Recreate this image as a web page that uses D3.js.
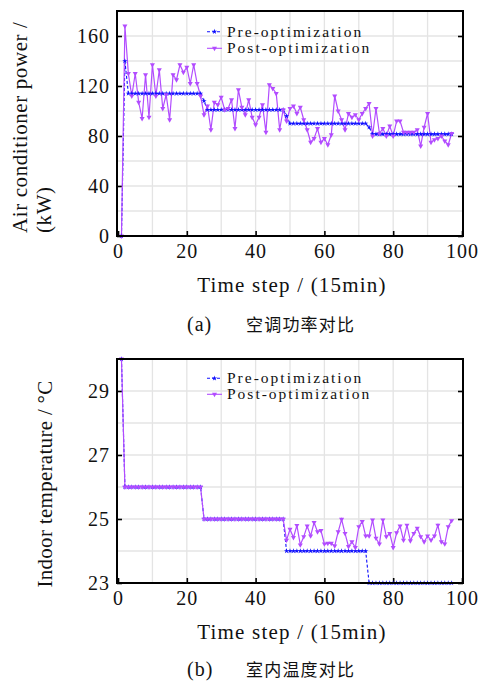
<!DOCTYPE html>
<html lang="en">
<head>
<meta charset="UTF-8">
<script src="https://d3js.org/d3.v7.min.js"></script>
<title>Air conditioner power and indoor temperature</title>
<style>
  body { margin: 0; background: #fff; }
  svg { display: block; font-family: "Liberation Serif", "Times New Roman", serif; }
  .grid line { stroke: #e4e4e4; stroke-width: 1.3px; }
  .frame { fill: none; stroke: #000; stroke-width: 2px; }
  .axis text { font-size: 20px; letter-spacing: 1px; fill: #111; font-family: "Liberation Serif", serif; }
  .axis line { stroke: #000; stroke-width: 1.6px; }
  .axis-title { font-size: 21px; fill: #111; }
  .legend-text { font-size: 15.5px; letter-spacing: 2px; fill: #111; }
  .cap-latin { font-size: 20px; letter-spacing: 1px; fill: #111; }
  .cap-cjk { font-size: 17px; letter-spacing: 1.2px; fill: #111; font-family: "Noto Sans CJK SC", sans-serif; }
</style>
</head>
<body>
<svg id="chart" width="481" height="684"></svg>
<script>
// time steps 1..97
const steps = d3.range(1, 98);

const powerPre = [
  0, 140, 114, 114, 114, 114, 114, 114, 114, 114,
  114, 114, 114, 114, 114, 114, 114, 114, 114, 114,
  114, 114, 114, 114, 108, 101, 101, 101, 101, 101,
  101, 101, 101, 101, 101, 101, 101, 101, 101, 101,
  101, 101, 101, 101, 101, 101, 101, 101, 96, 90,
  90, 90, 90, 90, 90, 90, 90, 90, 90, 90,
  90, 90, 90, 90, 90, 90, 90, 90, 90, 90,
  90, 90, 87, 81.5, 81.5, 81.5, 81.5, 81.5, 81.5, 81.5,
  81.5, 81.5, 81.5, 81.5, 81.5, 81.5, 81.5, 81.5, 81.5, 81.5,
  81.5, 81.5, 81.5, 81.5, 81.5, 81.5, 81.5
];
const powerPost = [
  0, 168, 130, 112, 130, 107, 94, 129, 95, 137,
  112, 133, 102, 113, 93, 129, 125, 137, 131, 135,
  122, 137, 122, 112, 97, 104, 85, 107, 105, 111,
  101, 102, 109, 86, 117, 103, 97, 109, 95, 89,
  95, 105, 83, 121, 118, 114, 85, 101, 92, 102,
  104, 98, 103, 93, 85, 75, 78, 86, 75, 78,
  73, 81, 112, 100, 93, 85, 98, 95, 97, 93,
  98, 102, 106, 80, 102, 82, 86, 80, 88, 80,
  92, 92, 83, 83, 83, 83, 85, 72, 87, 98,
  75, 77, 78, 80, 76, 73, 82
];

const tempPre = [
  30, 26, 26, 26, 26, 26, 26, 26, 26, 26,
  26, 26, 26, 26, 26, 26, 26, 26, 26, 26,
  26, 26, 26, 26, 25, 25, 25, 25, 25, 25,
  25, 25, 25, 25, 25, 25, 25, 25, 25, 25,
  25, 25, 25, 25, 25, 25, 25, 25, 24, 24,
  24, 24, 24, 24, 24, 24, 24, 24, 24, 24,
  24, 24, 24, 24, 24, 24, 24, 24, 24, 24,
  24, 24, 23, 23, 23, 23, 23, 23, 23, 23,
  23, 23, 23, 23, 23, 23, 23, 23, 23, 23,
  23, 23, 23, 23, 23, 23, 23
];
const tempPost = [
  30, 26, 26, 26, 26, 26, 26, 26, 26, 26,
  26, 26, 26, 26, 26, 26, 26, 26, 26, 26,
  26, 26, 26, 26, 25, 25, 25, 25, 25, 25,
  25, 25, 25, 25, 25, 25, 25, 25, 25, 25,
  25, 25, 25, 25, 25, 25, 25, 25, 24.34, 24.68,
  24.42, 24.8, 24.19, 24.45, 24.78, 24.47, 24.89, 24.6, 24.64, 24.22,
  24.24, 24.24, 24.16, 24.6, 24.99, 24.55, 24.14, 24.29, 24.11, 24.76,
  24.92, 24.47, 24.47, 24.97, 24.4, 24.22, 24.97, 24.45, 24.55, 24.11,
  24.57, 24.78, 24.34, 24.81, 24.32, 24.55, 24.71, 24.45, 24.29, 24.47,
  24.34, 24.47, 24.81, 24.29, 24.22, 24.76, 24.95
];

const seriesNames = ["Pre-optimization", "Post-optimization"];
const xTicks = [0, 20, 40, 60, 80, 100];
const powerTicks = [0, 40, 80, 120, 160];
const tempTicks = [23, 25, 27, 29];

const blue = "#1010ff";
const purple = "#b24cff";

const svg = d3.select("#chart");

const left = 117, right = 463;

function drawPanel(opt) {
  const g = svg.append("g");
  const x = d3.scaleLinear().domain([-0.3, 100.3]).range([left, right]);
  const y = d3.scaleLinear().domain(opt.yDomain).range([opt.bottom, opt.top]);

  // grid
  const grid = g.append("g").attr("class", "grid");
  grid.selectAll(".gx").data(d3.range(10, 100, 10)).join("line")
    .attr("x1", d => x(d)).attr("x2", d => x(d))
    .attr("y1", opt.top).attr("y2", opt.bottom);
  grid.selectAll(".gy").data(opt.gridY).join("line")
    .attr("x1", left).attr("x2", right)
    .attr("y1", d => y(d)).attr("y2", d => y(d));

  // axes, ticks pointing inward
  g.append("g").attr("class", "axis")
    .attr("transform", `translate(0,${opt.bottom})`)
    .call(d3.axisBottom(x).tickValues(xTicks).tickSize(-5).tickPadding(8))
    .call(a => a.select(".domain").remove());
  g.append("g").attr("class", "axis")
    .attr("transform", `translate(${left},0)`)
    .call(d3.axisLeft(y).tickValues(opt.yTicks).tickSize(-5).tickPadding(7)
      .tickFormat(d3.format("d")))
    .call(a => a.select(".domain").remove());
  g.append("g").attr("class", "axis")
    .attr("transform", `translate(${right},0)`)
    .call(d3.axisRight(y).tickValues(opt.yTicks).tickSize(-5).tickFormat(""))
    .call(a => a.select(".domain").remove());

  // lines
  const line = vals => d3.line().x((d, i) => x(steps[i])).y(d => y(d))(vals);
  g.append("path").attr("d", line(opt.pre))
    .attr("fill", "none").attr("stroke", blue).attr("stroke-width", 1.1)
    .attr("stroke-dasharray", "3,2");
  g.append("path").attr("d", line(opt.post))
    .attr("fill", "none").attr("stroke", purple).attr("stroke-width", 1.2);

  const star = d3.symbol().type(d3.symbolStar).size(9);
  const tri = d3.symbol().type(d3.symbolTriangle).size(11);
  g.append("g").selectAll("path").data(opt.pre).join("path")
    .attr("d", star)
    .attr("transform", (d, i) => `translate(${x(steps[i])},${y(d)})`)
    .attr("fill", blue);
  g.append("g").selectAll("path").data(opt.post).join("path")
    .attr("d", tri)
    .attr("transform", (d, i) => `translate(${x(steps[i])},${y(d)}) rotate(180)`)
    .attr("fill", purple);

  // frame
  g.append("rect").attr("class", "frame")
    .attr("x", left).attr("y", opt.top)
    .attr("width", right - left).attr("height", opt.bottom - opt.top);

  // legend
  const lg = g.append("g");
  seriesNames.forEach((name, i) => {
    const ly = opt.legendY + i * opt.legendGap;
    const col = i === 0 ? blue : purple;
    lg.append("line").attr("x1", 207).attr("x2", 222).attr("y1", ly).attr("y2", ly)
      .attr("stroke", col).attr("stroke-width", 1.1)
      .attr("stroke-dasharray", i === 0 ? "3,2" : null);
    lg.append("path")
      .attr("d", i === 0 ? star() : tri())
      .attr("transform", `translate(214.5,${ly})` + (i === 0 ? "" : " rotate(180)"))
      .attr("fill", col);
    lg.append("text").attr("class", "legend-text")
      .attr("x", 227).attr("y", ly + 5).text(name);
  });

  // x title
  g.append("text").attr("class", "axis-title")
    .attr("x", 292).attr("y", opt.bottom + 56)
    .attr("text-anchor", "middle")
    .attr("letter-spacing", "1.2px")
    .text("Time step / (15min)");

  // caption
  g.append("text").attr("class", "cap-latin")
    .attr("x", 187).attr("y", opt.captionY).text(opt.capTag);
  g.append("text").attr("class", "cap-cjk")
    .attr("x", 246).attr("y", opt.captionY).text(opt.capText);

  return g;
}

const panelA = drawPanel({
  top: 11, bottom: 236, yDomain: [0, 180],
  gridY: d3.range(20, 180, 20), yTicks: powerTicks,
  pre: powerPre, post: powerPost,
  legendY: 31.7, legendGap: 16.6,
  captionY: 331, capTag: "(a)", capText: "空调功率对比"
});
panelA.append("text").attr("class", "axis-title")
  .attr("transform", "translate(27,233) rotate(-90)")
  .attr("letter-spacing", "0.6px")
  .text("Air conditioner power /");
panelA.append("text").attr("class", "axis-title")
  .attr("transform", "translate(51,233) rotate(-90)")
  .attr("letter-spacing", "0.6px")
  .text("(kW)");

const panelB = drawPanel({
  top: 359, bottom: 583, yDomain: [23, 30],
  gridY: d3.range(24, 30, 1), yTicks: tempTicks,
  pre: tempPre, post: tempPost,
  legendY: 378.3, legendGap: 16,
  captionY: 676, capTag: "(b)", capText: "室内温度对比"
});
panelB.append("text").attr("class", "axis-title")
  .attr("transform", "translate(52,484) rotate(-90)")
  .attr("text-anchor", "middle")
  .attr("letter-spacing", "0.3px")
  .text("Indoor temperature / °C");
</script>
</body>
</html>
